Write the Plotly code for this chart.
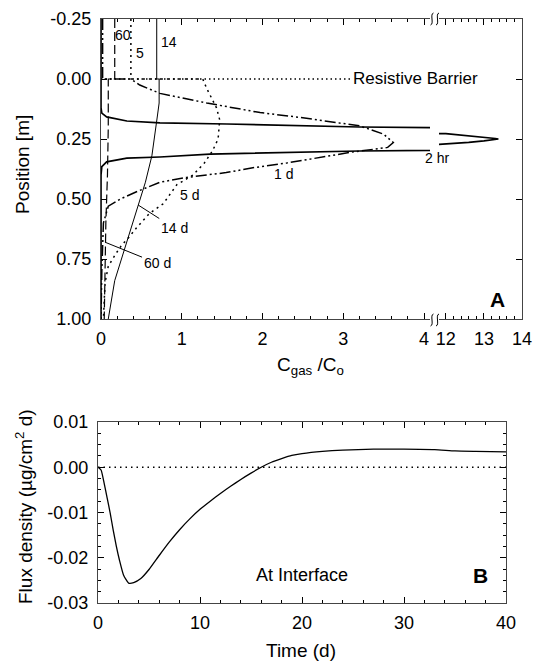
import plotly.graph_objects as go

W, H = 539, 663
FONT = "Liberation Sans, Arial, Helvetica, sans-serif"

# ---------------- Panel A data (C_gas/C_o vs position [m]) ----------------
c_2hr = [0.0, 0.0, 0.0, 0.01, 0.07, 0.32, 0.73, 1.56, 3.2, 12.0, 12.6, 13.0, 13.3, 13.38,
         13.3, 13.0, 12.6, 12.0, 3.2, 1.97, 1.35, 0.73, 0.32, 0.07, 0.01, 0.0, 0.0]
p_2hr = [-0.25, 0.0, 0.12, 0.142, 0.158, 0.175, 0.183, 0.1875, 0.2, 0.228, 0.236, 0.242, 0.248, 0.25,
         0.252, 0.258, 0.264, 0.272, 0.30, 0.31, 0.313, 0.325, 0.33, 0.345, 0.365, 0.40, 1.0]

c_1d = [0.02, 0.02, 0.37, 0.48, 0.73, 1.31, 1.97, 2.46, 3.2, 3.5, 3.62, 3.55, 3.1, 2.3, 1.88,
        1.55, 1.06, 0.73, 0.44, 0.24, 0.09, 0.03, 0.01, 0.0]
p_1d = [-0.25, 0.0, 0.0, 0.025, 0.06, 0.10, 0.14, 0.16, 0.195, 0.23, 0.265, 0.285, 0.305, 0.35, 0.37,
        0.39, 0.41, 0.43, 0.47, 0.50, 0.53, 0.60, 0.80, 1.0]

c_5d = [0.37, 0.37, 1.26, 1.31, 1.43, 1.47, 1.45, 1.38, 1.28, 1.14, 0.94, 0.77, 0.60, 0.44,
        0.32, 0.26, 0.18, 0.09, 0.05, 0.03]
p_5d = [-0.25, 0.0, 0.0, 0.04, 0.12, 0.17, 0.25, 0.30, 0.35, 0.40, 0.44, 0.52, 0.56, 0.62,
        0.67, 0.69, 0.73, 0.78, 0.85, 1.0]

c_14d = [0.69, 0.69, 0.72, 0.72, 0.70, 0.68, 0.65, 0.63, 0.55, 0.44, 0.36, 0.30, 0.17, 0.09]
p_14d = [-0.25, 0.0, 0.0, 0.10, 0.15, 0.20, 0.28, 0.32, 0.43, 0.55, 0.63, 0.70, 0.84, 1.0]

c_60d = [0.17, 0.17, 0.09, 0.09, 0.08, 0.06, 0.05, 0.04]
p_60d = [-0.25, 0.0, 0.0, 0.20, 0.40, 0.60, 0.80, 1.0]

barrier_c = [0.0, 3.1]
barrier_p = [0.0, 0.0]

# ---------------- Panel B data (flux density vs time) ----------------
t_days = [0, 0.3, 0.6, 0.9, 1.2, 1.5, 1.8, 2.1, 2.5, 3.0, 3.5, 4.2, 5, 6, 7, 8, 9, 10, 11,
          12, 13, 14, 15, 16, 17, 18, 19, 20, 22, 24, 27, 30, 33, 35, 37, 40]
flux = [0, -0.0006, -0.0035, -0.0068, -0.0102, -0.0140, -0.0175, -0.0205, -0.0238, -0.0256,
        -0.0255, -0.0246, -0.0226, -0.0195, -0.0165, -0.0138, -0.0114, -0.0093, -0.0075,
        -0.0058, -0.0042, -0.0027, -0.0013, 0.0000, 0.0011, 0.0019, 0.0026, 0.0030, 0.0035,
        0.0038, 0.0040, 0.0040, 0.0039, 0.0036, 0.0035, 0.0034]
zero_t = [0, 40]
zero_f = [0, 0]

# tick labels
xA_ticks = [0, 1, 2, 3, 4]
xA2_ticks = [12, 13, 14]
yA_ticks = [-0.25, 0.0, 0.25, 0.5, 0.75, 1.0]
yA_text = ["-0.25", "0.00", "0.25", "0.50", "0.75", "1.00"]
xB_ticks = [0, 10, 20, 30, 40]
yB_ticks = [0.01, 0.0, -0.01, -0.02, -0.03]
yB_text = ["0.01", "0.00", "-0.01", "-0.02", "-0.03"]


def px(x):
    return x / W


def py(y):
    return 1 - y / H


DOTS = "1.5px,3px"
DASHDOTDOT = "11px,3px,2px,3px,2px,3px"
DASH = "9px,4px"

fig = go.Figure()

# panel A, left segment
for c, p, dash, w in [(c_2hr, p_2hr, "solid", 1.7), (c_1d, p_1d, DASHDOTDOT, 1.5),
                      (c_5d, p_5d, "2px,4px", 1.5), (c_14d, p_14d, "solid", 1.0),
                      (c_60d, p_60d, DASH, 1.2), (barrier_c, barrier_p, DOTS, 1.6)]:
    fig.add_trace(go.Scatter(x=c, y=p, mode="lines", xaxis="x", yaxis="y",
                             line=dict(color="black", width=w, dash=dash),
                             showlegend=False, hoverinfo="skip"))
# panel A, right segment (only the 2 hr spike reaches it)
fig.add_trace(go.Scatter(x=c_2hr, y=p_2hr, mode="lines", xaxis="x2", yaxis="y2",
                         line=dict(color="black", width=1.7), showlegend=False,
                         hoverinfo="skip"))
# panel B
fig.add_trace(go.Scatter(x=zero_t, y=zero_f, mode="lines", xaxis="x3", yaxis="y3",
                         line=dict(color="black", width=1.6, dash="1.5px,4px"),
                         showlegend=False, hoverinfo="skip"))
fig.add_trace(go.Scatter(x=t_days, y=flux, mode="lines", xaxis="x3", yaxis="y3",
                         line=dict(color="black", width=1.3, shape="spline", smoothing=0.5),
                         showlegend=False, hoverinfo="skip"))

LINE = "#444"
tickfont = dict(family=FONT, size=18, color="black")
common = dict(showline=True, linecolor=LINE, linewidth=1.2, ticks="inside", tickcolor="black",
              ticklen=6, tickwidth=1, showgrid=False, zeroline=False, tickfont=tickfont,
              automargin=False)

yA_dom = [py(319), py(19)]
fig.update_layout(
    template="plotly_white",
    width=W, height=H, margin=dict(l=0, r=0, t=0, b=0, pad=0), autosize=False,
    paper_bgcolor="white", plot_bgcolor="white",
    font=dict(family=FONT, size=15, color="black"),
    xaxis=dict(domain=[px(101), px(430)], range=[0, 4.074], anchor="y", tickvals=xA_ticks,
               mirror="ticks", ticklabelstandoff=3,
               minor=dict(dtick=0.2, ticks="inside", ticklen=3, tickcolor="black"), **common),
    xaxis2=dict(domain=[px(439), px(522)], range=[11.82, 14], anchor="y2", tickvals=xA2_ticks,
                mirror="ticks", ticklabelstandoff=3,
                minor=dict(dtick=0.2, ticks="inside", ticklen=3, tickcolor="black"), **common),
    yaxis=dict(domain=yA_dom, range=[1.0, -0.25], anchor="x", tickvals=yA_ticks,
               ticktext=yA_text, ticklabelstandoff=5, **common),
    yaxis2=dict(domain=yA_dom, range=[1.0, -0.25], anchor="x2", side="right",
                tickvals=yA_ticks, showticklabels=False, **common),
    xaxis3=dict(domain=[px(98), px(506)], range=[0, 40], anchor="y3", tickvals=xB_ticks,
                mirror="ticks", ticklabelstandoff=3,
                minor=dict(dtick=2, ticks="inside", ticklen=3, tickcolor="black"), **common),
    yaxis3=dict(domain=[py(603), py(422)], range=[-0.03, 0.01], anchor="x3", tickvals=yB_ticks,
                ticktext=yB_text, mirror="ticks", ticklabelstandoff=5,
                minor=dict(dtick=0.0025, ticks="inside", ticklen=3, tickcolor="black"),
                **common),
)

# axis-break squiggles (decoration)
shapes = []
for yb in (320, 19):
    for xb in (432, 437.5):
        path = (f"M {px(xb - 1.5)},{py(yb + 6)} C {px(xb + 2.5)},{py(yb + 5)} "
                f"{px(xb - 2.5)},{py(yb - 5)} {px(xb + 1.5)},{py(yb - 6)}")
        shapes.append(dict(type="path", path=path, xref="paper", yref="paper",
                           line=dict(color="black", width=1)))
fig.update_layout(shapes=shapes)

ann = []


def label(text, x, y, size=14, **kw):
    ann.append(dict(text=text, x=px(x), y=py(y), xref="paper", yref="paper", showarrow=False,
                    xanchor="center", yanchor="middle",
                    font=dict(family=FONT, size=size, color="black"), **kw))


label("60", 123, 35)
label("5", 140, 53)
label("14", 169, 42)
label("Resistive Barrier", 415, 78, size=17)
label("2 hr", 437, 158)
label("1 d", 283, 174)
label("5 d", 189, 195)
label("<b>A</b>", 497, 300, size=21)
label("C<sub>gas</sub> /C<sub>o</sub>", 310, 366, size=19)
label("Position [m]", 22, 165, size=19, textangle=-90)
label("Flux density (µg/cm<sup>2</sup> d)", 24, 507, size=19, textangle=-90)
label("Time (d)", 301, 650, size=19)
label("At Interface", 302, 575, size=18)
label("<b>B</b>", 480, 575, size=21)

# leader-line labels
ann.append(dict(text="14 d", x=0.46, y=0.525, xref="x", yref="y", showarrow=True,
                arrowhead=0, arrowwidth=1, arrowcolor="black", ax=36, ay=23,
                font=dict(family=FONT, size=14, color="black")))
ann.append(dict(text="60 d", x=0.05, y=0.68, xref="x", yref="y", showarrow=True,
                arrowhead=0, arrowwidth=1, arrowcolor="black", ax=52, ay=21,
                font=dict(family=FONT, size=14, color="black")))
fig.update_layout(annotations=ann)

fig.write_html("out.html", config={"displayModeBar": False},
               post_script="document.body.style.margin='0';"
                           "document.body.style.overflow='hidden';")
